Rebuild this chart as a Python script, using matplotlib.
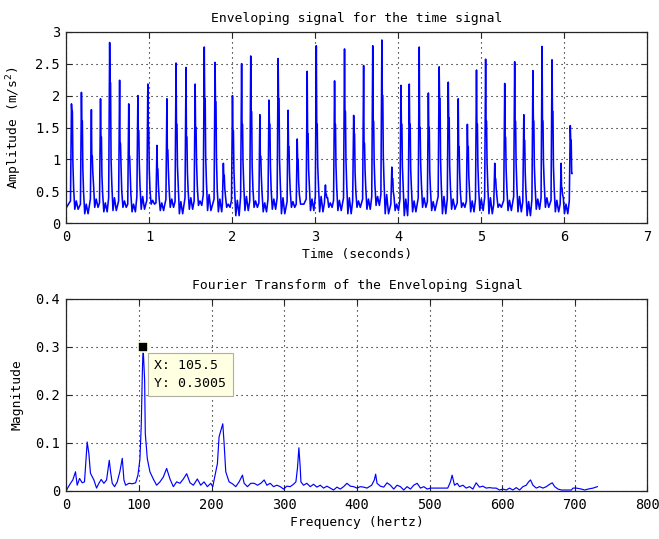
import matplotlib
matplotlib.use("Agg")
import matplotlib.pyplot as plt

# --- enveloping signal: one row per impact cycle ---
peak_t = [0.06, 0.18, 0.30, 0.41, 0.52, 0.64, 0.75, 0.86, 0.98, 1.09,
          1.21, 1.32, 1.44, 1.55, 1.66, 1.79, 1.89, 2.00, 2.11, 2.22,
          2.33, 2.44, 2.55, 2.67, 2.78, 2.90, 3.01, 3.12, 3.23, 3.35,
          3.46, 3.58, 3.69, 3.80, 3.92, 4.03, 4.13, 4.25, 4.36, 4.49,
          4.60, 4.72, 4.83, 4.94, 5.05, 5.16, 5.28, 5.40, 5.51, 5.62,
          5.73, 5.85, 5.96, 6.07]
peak_amp = [1.87, 2.05, 1.78, 1.95, 2.83, 2.24, 1.87, 2.00, 2.18, 1.22,
            1.95, 2.51, 2.44, 2.18, 2.76, 2.52, 0.94, 2.00, 2.50, 2.62,
            1.70, 1.93, 2.58, 1.77, 1.32, 2.38, 2.78, 0.60, 2.23, 2.73,
            1.69, 2.47, 2.78, 2.87, 0.88, 2.16, 2.18, 2.76, 2.04, 2.45,
            2.21, 1.95, 1.55, 2.40, 2.57, 0.94, 2.19, 2.53, 1.70, 2.39,
            2.77, 2.56, 0.94, 1.53]
shoulder_amp = [1.75, 1.60, 1.05, 1.35, 2.20, 1.25, 1.05, 1.45, 1.50, 0.85,
                1.15, 1.55, 1.35, 1.50, 1.95, 1.90, 0.75, 1.45, 1.55, 1.75,
                1.05, 1.55, 1.95, 1.20, 1.00, 1.40, 1.55, 0.45, 1.55, 1.75,
                1.40, 1.25, 1.60, 2.00, 0.70, 1.55, 1.55, 1.50, 1.50, 1.95,
                1.65, 1.20, 1.20, 1.55, 1.60, 0.70, 1.35, 1.60, 1.30, 1.60,
                1.60, 1.75, 0.55, 1.30]
knee_amp = [0.95, 0.85, 0.80, 0.75, 1.00, 0.90, 0.80, 0.95, 0.85, 0.60,
            0.85, 0.90, 0.80, 0.95, 1.05, 1.00, 0.55, 0.85, 0.95, 0.90,
            0.75, 0.90, 1.00, 0.80, 0.65, 0.85, 0.90, 0.40, 0.90, 1.00,
            0.80, 0.85, 0.95, 1.05, 0.50, 0.90, 0.85, 0.95, 0.80, 1.00,
            0.90, 0.80, 0.75, 0.90, 0.95, 0.55, 0.85, 0.95, 0.80, 0.90,
            0.95, 0.90, 0.45, 0.78]
bump_amp = [0.55, 0.48, 0.60, 0.45, 0.62, 0.50, 0.45, 0.58, 0.52, 0.40,
            0.55, 0.60, 0.50, 0.58, 0.65, 0.55, 0.42, 0.50, 0.60, 0.55,
            0.48, 0.52, 0.62, 0.50, 0.45, 0.58, 0.60, 0.40, 0.55, 0.62,
            0.50, 0.55, 0.60, 0.65, 0.42, 0.60, 0.55, 0.62, 0.50, 0.58,
            0.55, 0.48, 0.50, 0.55, 0.60, 0.42, 0.55, 0.60, 0.48, 0.58,
            0.62, 0.55, 0.40, 0.50]
ripple_amp = [0.35, 0.30, 0.38, 0.32, 0.40, 0.35, 0.30, 0.42, 0.36, 0.32,
              0.38, 0.34, 0.40, 0.35, 0.45, 0.38, 0.30, 0.36, 0.42, 0.35,
              0.32, 0.38, 0.40, 0.34, 0.30, 0.38, 0.42, 0.32, 0.36, 0.40,
              0.35, 0.38, 0.42, 0.45, 0.30, 0.38, 0.35, 0.40, 0.34, 0.42,
              0.38, 0.32, 0.35, 0.38, 0.40, 0.30, 0.36, 0.42, 0.34, 0.38,
              0.40, 0.36, 0.30, 0.35]
trough_amp = [0.22, 0.15, 0.25, 0.18, 0.20, 0.25, 0.18, 0.22, 0.30, 0.20,
              0.25, 0.15, 0.22, 0.28, 0.20, 0.18, 0.25, 0.12, 0.20, 0.25,
              0.18, 0.22, 0.15, 0.25, 0.30, 0.20, 0.18, 0.25, 0.20, 0.15,
              0.25, 0.22, 0.28, 0.15, 0.20, 0.12, 0.18, 0.25, 0.20, 0.15,
              0.22, 0.25, 0.18, 0.20, 0.15, 0.25, 0.20, 0.18, 0.12, 0.22,
              0.25, 0.18, 0.15, 0.22]
sig_start = (0.0, 0.25)
sig_end = (6.09, 0.78)

# --- FFT of the envelope (Hz, magnitude) ---
freq = [0, 5.5, 8.7, 12.4, 14.7, 18, 21.6, 24.8, 28.5, 30.8, 33, 37.7, 41.4, 44.6,
        47.8, 51.5, 55.2, 58.9, 60.7, 63, 66.2, 69.9, 73.6, 76.8, 79.1, 81.4, 86,
        90.6, 95.2, 98.4, 101.1, 103, 104.4, 105.5, 107.6, 108.5, 111.3, 114.9,
        119.5, 124.1, 128.7, 133.3, 137.9, 142.5, 147.1, 151.7, 156.3, 160.9,
        165.5, 170.1, 174.7, 180.2, 184.8, 189.4, 194, 198.6, 201.4, 204.1, 207.8,
        210.1, 213.3, 215.2, 217, 219.3, 223.9, 228.5, 233.1, 237.7, 242.3, 244.6,
        249.2, 253.8, 258.4, 263, 267.6, 272.2, 275.9, 280.5, 285.1, 289.7, 294.3,
        298.9, 303.4, 308, 312.6, 315.9, 318.2, 320, 321.8, 322.8, 326.4, 331,
        335.6, 340.2, 344.8, 349.4, 354, 358.6, 363.2, 367.8, 372.4, 377, 381.6,
        386.2, 390.8, 395.4, 400, 404.6, 409.2, 413.8, 420.2, 423.9, 425.7, 427.6,
        432.2, 436.8, 441.4, 446, 450.6, 455.2, 459.8, 464.4, 469, 473.6, 478.2,
        482.8, 487.4, 492, 496.6, 501.1, 505.7, 511, 518, 525, 528.7, 531, 534.3,
        538, 541.2, 545.8, 550.4, 555, 559.6, 564.1, 568.7, 573.3, 577.9, 582.5,
        587.1, 591.7, 596.3, 600.9, 605.5, 610.1, 614.7, 619.3, 623.9, 628.5,
        633.1, 636.3, 639, 642.3, 646.9, 651.5, 656.1, 660.7, 665.3, 668.9, 672.2,
        676.8, 681.4, 688, 695.2, 697.5, 702.1, 709, 713.6, 718.2, 725.1, 731]
mag = [0.002, 0.016, 0.023, 0.040, 0.012, 0.026, 0.017, 0.019, 0.102, 0.078, 0.037,
       0.023, 0.006, 0.016, 0.024, 0.016, 0.023, 0.064, 0.040, 0.016, 0.009, 0.019,
       0.041, 0.068, 0.023, 0.012, 0.016, 0.015, 0.017, 0.033, 0.066, 0.140, 0.244,
       0.3005, 0.230, 0.120, 0.067, 0.040, 0.025, 0.012, 0.019, 0.029, 0.047, 0.025,
       0.009, 0.019, 0.016, 0.025, 0.036, 0.017, 0.012, 0.025, 0.012, 0.019, 0.009,
       0.016, 0.009, 0.029, 0.057, 0.113, 0.130, 0.140, 0.100, 0.040, 0.019, 0.015,
       0.009, 0.019, 0.033, 0.016, 0.009, 0.016, 0.016, 0.012, 0.016, 0.023, 0.012,
       0.016, 0.009, 0.012, 0.009, 0.004, 0.010, 0.009, 0.014, 0.019, 0.050, 0.090,
       0.050, 0.019, 0.012, 0.016, 0.009, 0.014, 0.008, 0.012, 0.006, 0.010, 0.006,
       0.002, 0.008, 0.004, 0.009, 0.016, 0.010, 0.009, 0.006, 0.009, 0.008, 0.006,
       0.012, 0.023, 0.035, 0.016, 0.010, 0.008, 0.017, 0.012, 0.004, 0.012, 0.009,
       0.002, 0.009, 0.004, 0.012, 0.016, 0.006, 0.009, 0.004, 0.006, 0.006, 0.006,
       0.006, 0.006, 0.019, 0.033, 0.012, 0.016, 0.009, 0.012, 0.006, 0.009, 0.004,
       0.017, 0.008, 0.010, 0.006, 0.007, 0.006, 0.006, 0.002, 0.004, 0.002, 0.006,
       0.002, 0.007, 0.002, 0.009, 0.012, 0.019, 0.023, 0.012, 0.006, 0.009, 0.006,
       0.009, 0.014, 0.017, 0.009, 0.004, 0.002, 0.002, 0.002, 0.006, 0.006, 0.004,
       0.002, 0.004, 0.006, 0.009]
tip_f, tip_m = 105.5, 0.3005

# build the envelope polyline from the per-cycle readings
sig_t, sig_a = [sig_start[0]], [sig_start[1]]
for i, tp in enumerate(peak_t):
    sig_t += [tp - 0.012, tp, tp + 0.005, tp + 0.011, tp + 0.017,
              tp + 0.026, tp + 0.04, tp + 0.058, tp + 0.08]
    sig_a += [ripple_amp[i], peak_amp[i], shoulder_amp[i], shoulder_amp[i],
              knee_amp[i], bump_amp[i], trough_amp[i], ripple_amp[i], trough_amp[i]]
keep = [k for k, t in enumerate(sig_t) if t < sig_end[0] - 0.002]
sig_t = [sig_t[k] for k in keep] + [sig_end[0]]
sig_a = [sig_a[k] for k in keep] + [sig_end[1]]

plt.rcParams["font.family"] = ["DejaVu Sans Mono", "DejaVu Sans"]
plt.rcParams["mathtext.fontset"] = "dejavusans"
W, H = 659, 539
fig = plt.figure(figsize=(W / 100, H / 100), dpi=100)

grid_kw = dict(color="black", linestyle=(0, (1, 3.5)), linewidth=0.8)
label_fs = 9.4


def style(ax):
    ax.tick_params(direction="in", length=4, width=0.8, top=True, right=True,
                   colors="#262626", labelcolor="black", labelsize=9.8)
    ax.tick_params(axis="x", pad=5)
    ax.tick_params(axis="y", pad=4.5)
    for s in ax.spines.values():
        s.set_color("#262626")
        s.set_linewidth(0.9)
    ax.grid(True, **grid_kw)
    ax.set_axisbelow(True)
    ax.yaxis.set_label_coords(-0.074, 0.5)


ax1 = fig.add_axes([0.1009, 0.5857, 0.8816, 0.3555])
ax1.plot(sig_t, sig_a, color="#0000ff", linewidth=1.15)
ax1.set_xlim(0, 7)
ax1.set_ylim(0, 3)
ax1.set_xticks(range(8))
ax1.set_yticks([0, 0.5, 1, 1.5, 2, 2.5, 3])
ax1.set_yticklabels(["0", "0.5", "1", "1.5", "2", "2.5", "3"])
ax1.set_title("Enveloping signal for the time signal", fontsize=label_fs, pad=7)
ax1.set_xlabel("Time (seconds)", fontsize=label_fs, labelpad=3)
ax1.set_ylabel("Amplitude (m/s$^2$)", fontsize=label_fs)
style(ax1)

ax2 = fig.add_axes([0.1009, 0.0891, 0.8816, 0.3562])
ax2.plot(freq, mag, color="#0000ff", linewidth=0.85)
ax2.set_xlim(0, 800)
ax2.set_ylim(0, 0.4)
ax2.set_xticks(range(0, 801, 100))
ax2.set_yticks([0, 0.1, 0.2, 0.3, 0.4])
ax2.set_yticklabels(["0", "0.1", "0.2", "0.3", "0.4"])
ax2.set_title("Fourier Transform of the Enveloping Signal", fontsize=label_fs, pad=7)
ax2.set_xlabel("Frequency (hertz)", fontsize=label_fs, labelpad=3)
ax2.set_ylabel("Magnitude", fontsize=label_fs)
style(ax2)

# data tip
ax2.plot([tip_f], [tip_m], marker="s", markersize=7.5, color="black",
         markeredgecolor="#ffffe1", markeredgewidth=1.2, zorder=6, clip_on=False)
ax2.annotate(f"X: {tip_f}\nY: {tip_m}", xy=(tip_f, tip_m), xytext=(8, -9),
             textcoords="offset points", ha="left", va="top",
             family="DejaVu Sans Mono", fontsize=9.5, linespacing=1.45, zorder=7,
             bbox=dict(boxstyle="square,pad=0.5", facecolor="#ffffe1",
                       edgecolor="#b0b0a0", linewidth=0.8))

fig.savefig("out.png", dpi=100)
